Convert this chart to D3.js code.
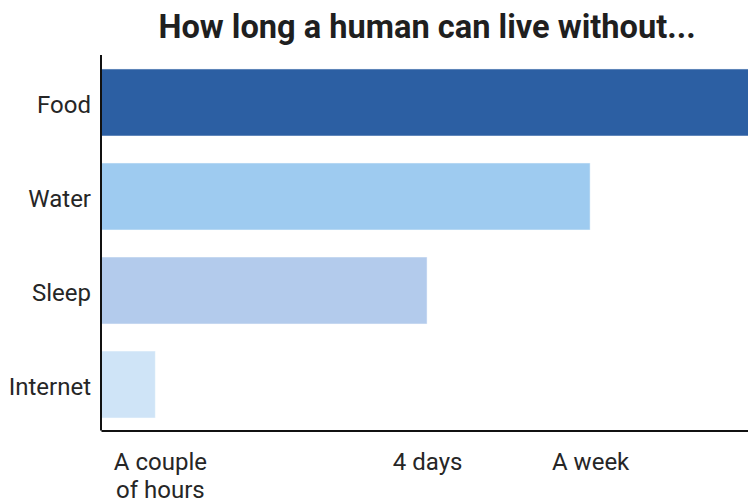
<!DOCTYPE html>
<html>
<head>
<meta charset="utf-8">
<script src="https://cdn.jsdelivr.net/npm/d3@7"></script>
<style>
  html, body { margin: 0; padding: 0; background: #fff; }
  svg { display: block; font-family: Roboto, "Noto Sans", sans-serif; }
</style>
</head>
<body>
<svg id="chart" width="748" height="502"></svg>
<script>
// Survival time, on a relative (non-linear) scale
const categories = ["Food", "Water", "Sleep", "Internet"];
const values = [102, 75.6, 50.4, 8.4];
const barColors = ["#2c5fa3", "#9ecbf0", "#b3cbec", "#cfe4f7"];
const tickValues = [9.1, 50.4, 75.6];
const tickLabels = [["A couple", "of hours"], ["4 days"], ["A week"]];

const svg = d3.select("#chart");
const margin = { top: 55, left: 101, right: 0, bottom: 72 };
const W = 748, H = 502;

const x = d3.scaleLinear().domain([0, 100]).range([margin.left, W]);
const y = d3.scaleBand().domain(categories).range([56, 431]).paddingInner(0.287).paddingOuter(0.138);

svg.append("text")
  .attr("x", 427).attr("y", 38)
  .attr("text-anchor", "middle")
  .attr("font-size", 32.6).attr("font-weight", 700)
  .attr("fill", "#1f1f1f")
  .text("How long a human can live without...");

svg.append("g").selectAll("rect")
  .data(categories)
  .join("rect")
  .attr("x", x(0))
  .attr("y", d => y(d))
  .attr("width", (d, i) => x(values[i]) - x(0))
  .attr("height", y.bandwidth())
  .attr("fill", (d, i) => barColors[i])
  .attr("stroke", "rgba(255,255,255,0.5)")
  .attr("stroke-width", 1);

// Category axis
const yAxis = svg.append("g")
  .attr("transform", `translate(${margin.left},0)`)
  .call(d3.axisLeft(y).tickSize(0).tickPadding(10));
yAxis.select(".domain").attr("d", `M0,${margin.top}V430.5`).attr("stroke", "#111").attr("stroke-width", 2);
yAxis.selectAll("text").attr("font-size", 24).attr("dy", "0.45em").attr("fill", "#262626").attr("font-family", "Roboto");

// Time axis
const xAxis = svg.append("g")
  .attr("transform", "translate(0,430.5)")
  .call(d3.axisBottom(x).tickValues(tickValues).tickSize(0).tickFormat(""));
xAxis.select(".domain").attr("stroke", "#111").attr("stroke-width", 2);
xAxis.selectAll(".tick").each(function(d, i) {
  const t = d3.select(this).append("text")
    .attr("fill", "#262626")
    .attr("font-size", 24)
    .attr("font-family", "Roboto")
    .attr("text-anchor", "middle");
  tickLabels[i].forEach((line, j) => {
    t.append("tspan").attr("x", 0).attr("y", 39 + j * 28).text(line);
  });
});
</script>
</body>
</html>
